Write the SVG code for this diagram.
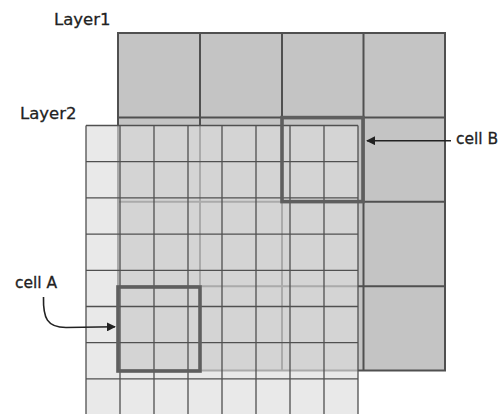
<svg xmlns="http://www.w3.org/2000/svg" width="500" height="414" viewBox="0 0 500 414">
  <defs>
    <style>
      .l1cell { fill: none; stroke: #505050; stroke-width: 2; }
      .l2bg { fill: rgb(221,221,221); fill-opacity: 0.64; }
      .l2line { stroke: #505050; stroke-width: 1.3; fill: none; }
      .hl { fill: none; stroke: #5e5e5e; stroke-width: 3.6; }
      .lbl { font-family: "DejaVu Sans", "Liberation Sans", sans-serif; fill: #222; stroke: #222; stroke-width: 0.3; }
      .conn { fill: none; stroke: #222; stroke-width: 1.6; }
    </style>
    <marker id="arrow" viewBox="0 0 10 10" refX="9" refY="5" markerWidth="9" markerHeight="9" markerUnits="userSpaceOnUse" orient="auto">
      <path d="M0,0 L10,5 L0,10 Z" fill="#222"/>
    </marker>
  </defs>

  <rect width="500" height="414" fill="#ffffff"/>

  <g id="layer1">
    <rect x="118" y="33" width="327" height="337.6" fill="#c4c4c4"/>
    <path class="l1cell" d="M118,33 H445 V370.6 H118 Z M200,33 V370.6 M282,33 V370.6 M363.5,33 V370.6 M118,117.4 H445 M118,201.8 H445 M118,286.2 H445"/>
  </g>

  <g id="layer2">
    <rect class="l2bg" x="86" y="125.5" width="272" height="290"/>
    <path class="l2line" d="M86,125.5 V415 M120,125.5 V415 M154,125.5 V415 M188,125.5 V415 M222,125.5 V415 M256,125.5 V415 M290,125.5 V415 M324,125.5 V415 M358,125.5 V415
      M86,125.5 H358 M86,161.7 H358 M86,197.9 H358 M86,234.1 H358 M86,270.3 H358 M86,306.5 H358 M86,342.7 H358 M86,378.9 H358"/>
  </g>

  <g id="cellB">
    <rect class="hl" x="282" y="117.6" width="81" height="84"/>
  </g>

  <g id="cellA">
    <rect class="hl" x="118" y="287" width="82" height="84"/>
  </g>

  <g id="labels">
    <text class="lbl" x="54" y="25" font-size="16.5">Layer1</text>
    <text class="lbl" x="20" y="119" font-size="16.5">Layer2</text>
    <text class="lbl" x="15" y="287.5" font-size="15.5">cell A</text>
    <text class="lbl" x="456" y="144" font-size="15.5">cell B</text>
  </g>

  <g id="connectors">
    <path class="conn" d="M451,140.7 H367" marker-end="url(#arrow)"/>
    <path class="conn" d="M43.5,297 C43,318 47,327.5 66,327.5 L115,326.8" marker-end="url(#arrow)"/>
  </g>
</svg>
